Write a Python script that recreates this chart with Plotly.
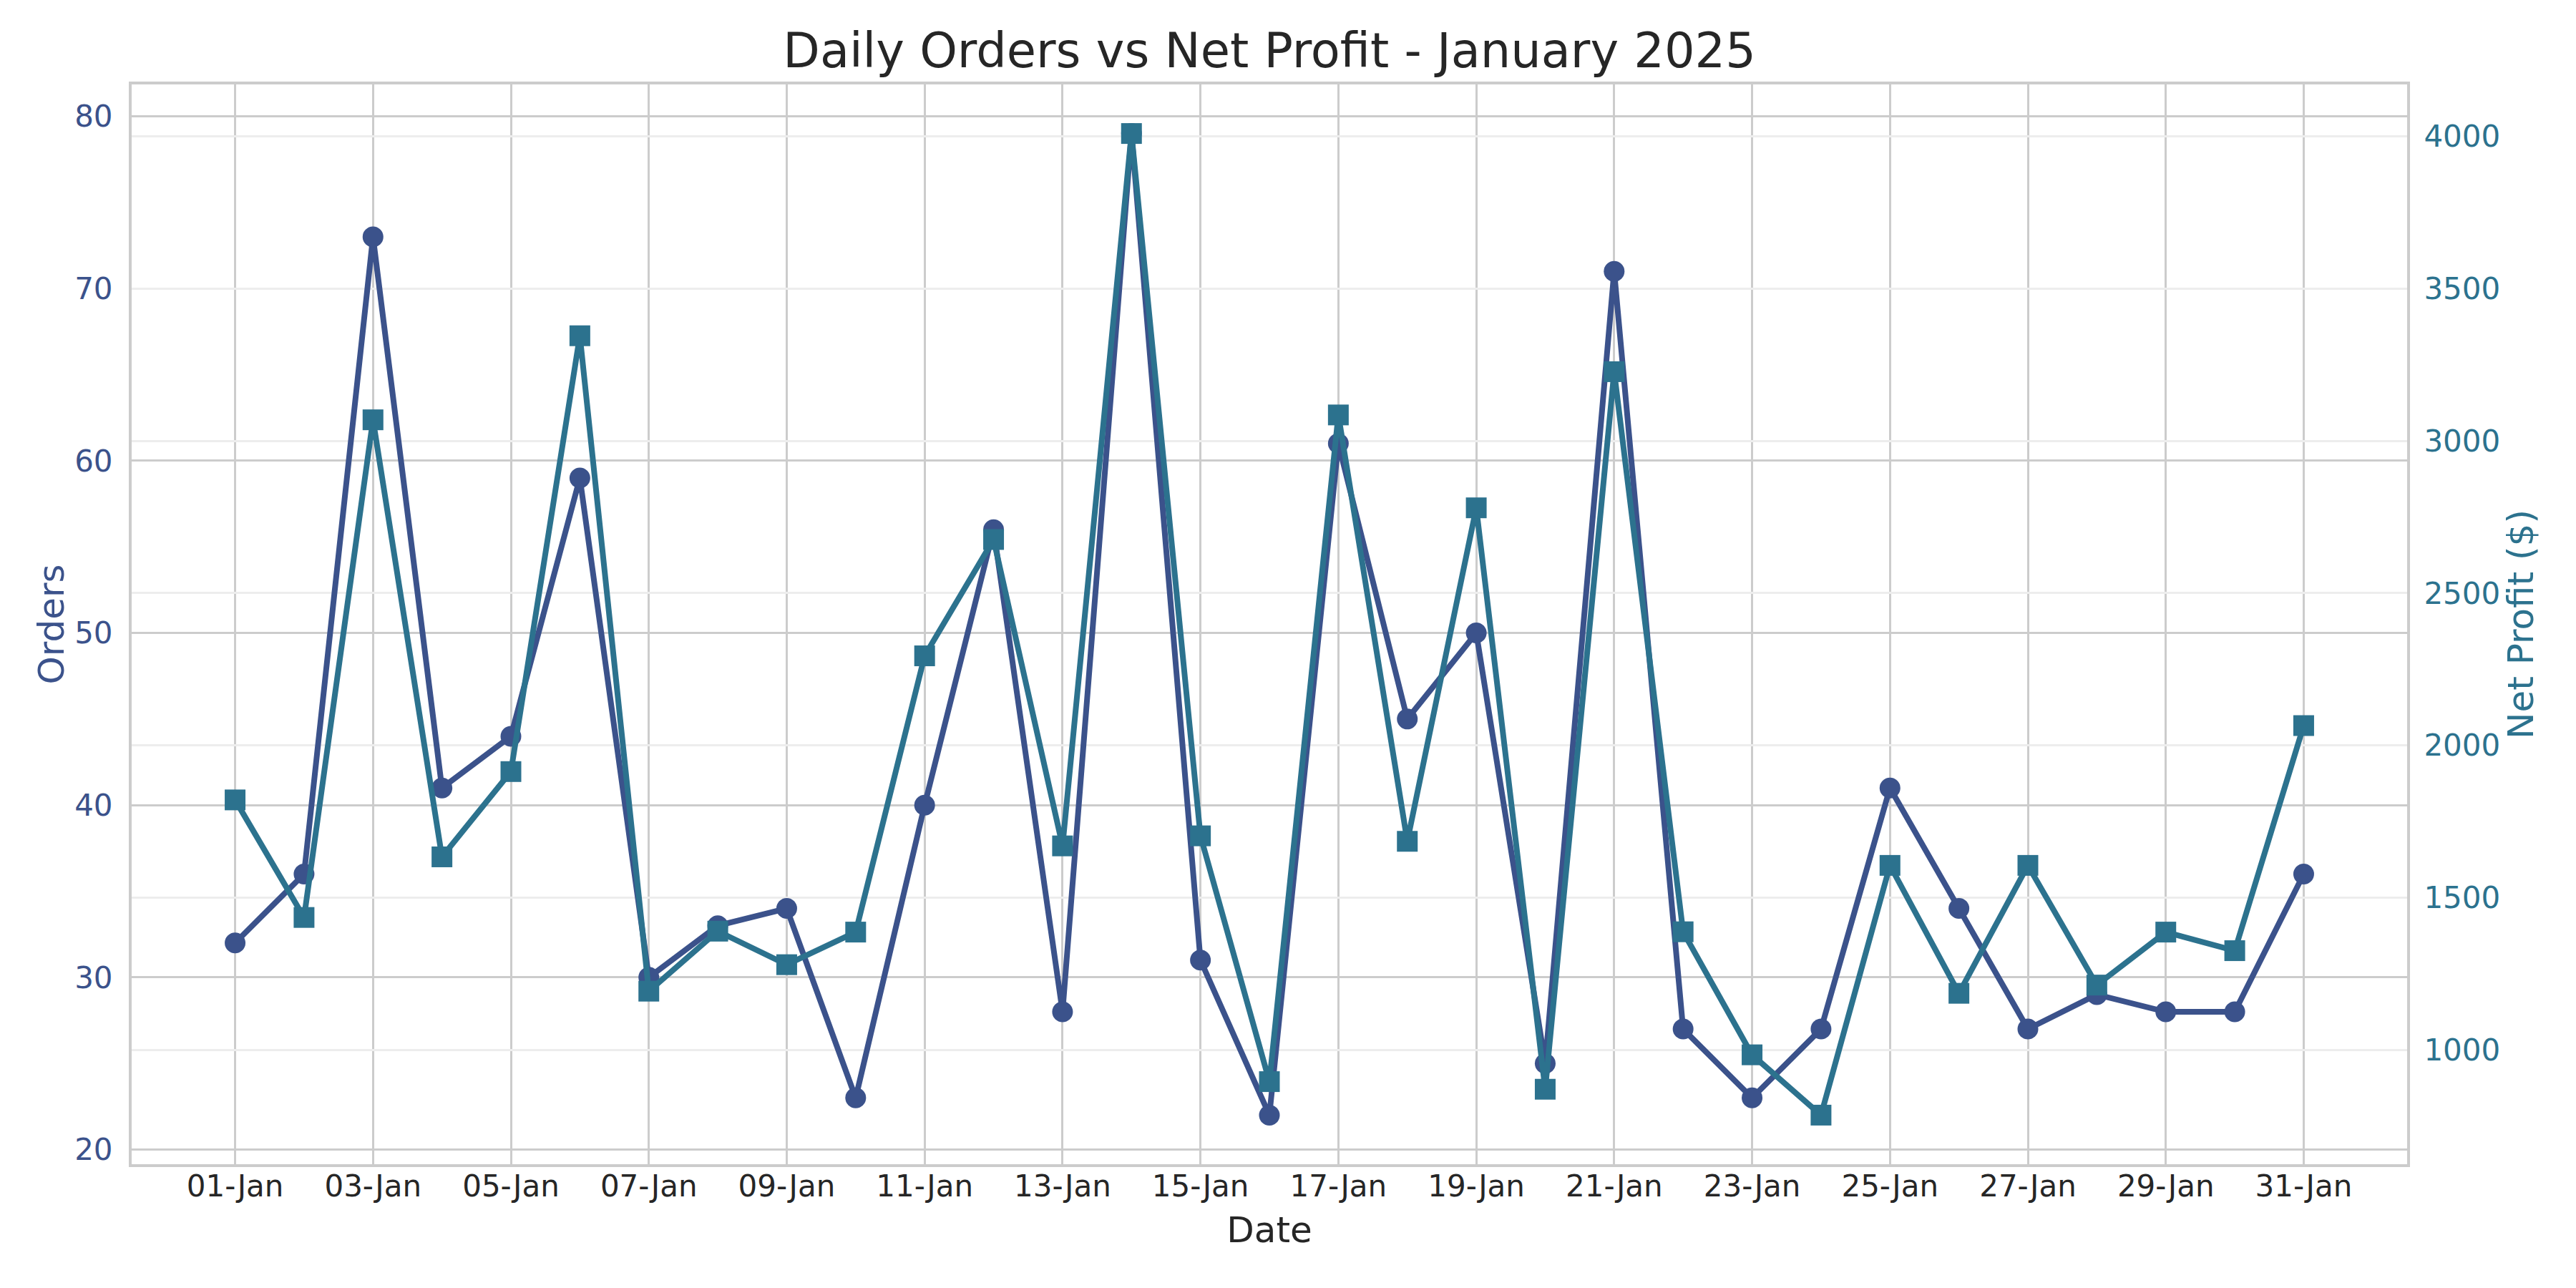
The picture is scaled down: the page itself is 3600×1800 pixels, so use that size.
import plotly.graph_objects as go
import pandas as pd

dates = pd.date_range("2025-01-01", "2025-01-31", freq="D")
orders = [32, 36, 73, 41, 44, 59, 30, 33, 34, 23, 40, 56, 28, 79, 31, 22,
          61, 45, 50, 25, 71, 27, 23, 27, 41, 34, 27, 29, 28, 28, 36]
net_profit = [1821, 1435, 3069, 1634, 1914, 3345, 1193, 1390, 1280, 1387, 2294,
              2676, 1670, 4009, 1703, 896, 3085, 1685, 2780, 871, 3227, 1388,
              984, 786, 1606, 1186, 1606, 1213, 1387, 1326, 2065]

C_ORD = "#3b528b"
C_PRO = "#2c728e"
TXT = "#262626"
GRID = "#cccccc"
FONT = "DejaVu Sans"


def padded(vals, frac=0.05):
    lo, hi = min(vals), max(vals)
    m = (hi - lo) * frac
    return [lo - m, hi + m]


fig = go.Figure()
fig.add_trace(go.Scatter(
    x=dates, y=orders, name="Orders", mode="lines+markers",
    line=dict(color=C_ORD, width=8),
    marker=dict(symbol="circle", size=29, color=C_ORD),
    yaxis="y",
))
fig.add_trace(go.Scatter(
    x=dates, y=net_profit, name="Net Profit ($)", mode="lines+markers",
    line=dict(color=C_PRO, width=8),
    marker=dict(symbol="square", size=29, color=C_PRO),
    yaxis="y2",
))

x0 = dates[0] - pd.Timedelta(hours=36)
x1 = dates[-1] + pd.Timedelta(hours=36)

fig.update_layout(
    width=3600, height=1800,
    paper_bgcolor="white", plot_bgcolor="white",
    margin=dict(l=184, r=236, t=118, b=173),
    showlegend=False,
    font=dict(family=FONT, color=TXT),
    title=dict(
        text="Daily Orders vs Net Profit - January 2025",
        font=dict(family=FONT, size=67, color=TXT),
        x=0.4928, xanchor="center", y=0.961, yanchor="middle",
        xref="container", yref="container",
    ),
    xaxis=dict(
        range=[x0, x1], type="date",
        tick0="2025-01-01", dtick=2 * 86400000, tickformat="%d-%b",
        showgrid=True, gridcolor=GRID, gridwidth=3,
        showline=True, linecolor=GRID, linewidth=4, mirror=True,
        ticks="outside", ticklen=1, tickcolor="rgba(0,0,0,0)",
        ticklabelstandoff=-10,
        tickfont=dict(family=FONT, size=42, color=TXT),
        title=dict(text="Date", font=dict(family=FONT, size=50, color=TXT), standoff=21),
        zeroline=False,
    ),
    yaxis=dict(
        range=padded(orders),
        tick0=0, dtick=10,
        showgrid=True, gridcolor=GRID, gridwidth=3,
        showline=True, linecolor=GRID, linewidth=4, mirror=True,
        ticks="outside", ticklen=14, tickcolor="rgba(0,0,0,0)",
        tickfont=dict(family=FONT, size=42, color=C_ORD),
        title=dict(text="Orders", font=dict(family=FONT, size=50, color=C_ORD), standoff=0),
        zeroline=False,
    ),
    yaxis2=dict(
        range=padded(net_profit),
        overlaying="y", side="right",
        tick0=0, dtick=500,
        showgrid=True, gridcolor="#ededed", gridwidth=3,
        showline=False,
        ticks="outside", ticklen=14, tickcolor="rgba(0,0,0,0)",
        tickfont=dict(family=FONT, size=42, color=C_PRO),
        title=dict(text="Net Profit ($)", font=dict(family=FONT, size=50, color=C_PRO), standoff=10),
        zeroline=False,
    ),
)

fig.write_html("out.html")
